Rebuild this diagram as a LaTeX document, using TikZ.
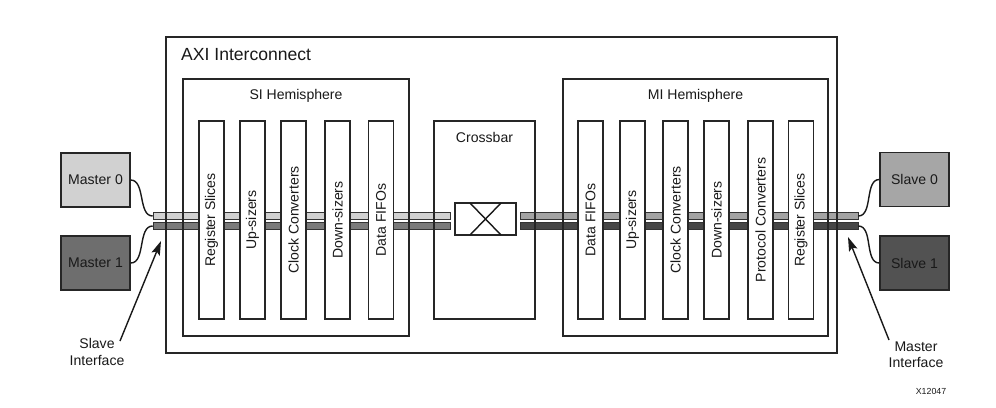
\documentclass[tikz,border=0pt]{standalone}
\usepackage{fontspec}
\setsansfont{Liberation Sans}
\usetikzlibrary{arrows.meta, calc, backgrounds}

\begin{document}
\begin{tikzpicture}[
  x=0.02cm, y=-0.02cm,
  font=\sffamily\fontsize{8}{9.6}\selectfont,
  every node/.style={text=black!90},
  frame/.style={draw=black!85, line width=0.8pt, inner sep=0pt},
  slice/.style={frame, fill=white, rotate=90, minimum width=3.96cm, minimum height=0.5cm},
  port/.style={frame, minimum width=1.38cm, minimum height=1.08cm},
  bar/.style={draw=black!80, line width=0.4pt, inner sep=0pt, minimum height=0.15cm},
  wire/.style={draw=black!90, line width=0.8pt},
  ptr/.style={-{Stealth[length=8pt, width=5pt, inset=1.5pt]}, line width=0.8pt, draw=black!90},
  title/.style={font=\sffamily\fontsize{8}{9.6}\selectfont},
  lbl/.style={align=center, inner sep=0pt}
]
\useasboundingbox (0,0) rectangle (996,407);

% === BUSES ===
\begin{scope}[on background layer]
  \node[bar, fill=black!18, minimum width=5.94cm] (sibar0) at (301.5,216) {};
  \node[bar, fill=black!52, minimum width=5.94cm] (sibar1) at (301.5,226) {};
  \node[bar, fill=black!36, minimum width=6.76cm] (mibar0) at (689,216) {};
  \node[bar, fill=black!72, minimum width=6.76cm] (mibar1) at (689,226) {};
\end{scope}

% === AXI INTERCONNECT ===
\node[frame, minimum width=13.42cm, minimum height=6.32cm] (axi) at (501.5,195) {};
\node[font=\sffamily\fontsize{10}{12}\selectfont, anchor=west] at (175,55) {AXI Interconnect};

% === SI HEMISPHERE ===
\node[frame, minimum width=4.52cm, minimum height=5.14cm] (si) at (296,207.5) {};
\node[title] at (296,96) {SI Hemisphere};
\node[slice] (si1) at (211.5,220) {Register Slices};
\node[slice] (si2) at (252.5,220) {Up-sizers};
\node[slice] (si3) at (293.5,220) {Clock Converters};
\node[slice] (si4) at (337.5,220) {Down-sizers};
\node[slice] (si5) at (381,220) {Data FIFOs};

% === CROSSBAR ===
\node[frame, minimum width=2.02cm, minimum height=3.96cm] (xbar) at (484.5,220) {};
\node[title] at (484.5,137) {Crossbar};
\node[frame, fill=white, minimum width=1.22cm, minimum height=0.64cm] (xsw) at (485.5,219) {};
\draw[wire] (470,203) -- (501,235);
\draw[wire] (501,203) -- (470,235);

% === MI HEMISPHERE ===
\node[frame, minimum width=5.3cm, minimum height=5.14cm] (mi) at (695.5,207.5) {};
\node[title] at (695.5,96) {MI Hemisphere};
\node[slice] (mi1) at (590.5,220) {Data FIFOs};
\node[slice] (mi2) at (632.5,220) {Up-sizers};
\node[slice] (mi3) at (675.5,220) {Clock Converters};
\node[slice] (mi4) at (716.5,220) {Down-sizers};
\node[slice] (mi5) at (760.5,220) {Protocol Converters};
\node[slice] (mi6) at (801,220) {Register Slices};

% === MASTERS AND SLAVES ===
\node[port, fill=black!18] (m0) at (95.5,180) {Master 0};
\node[port, fill=black!57] (m1) at (95.5,263) {Master 1};
\node[port, fill=black!35] (s0) at (914.5,179.5) {Slave 0};
\node[port, fill=black!68] (s1) at (914.5,263) {Slave 1};

\draw[wire] (m0.east) to[out=0, in=180, looseness=0.9] (sibar0.west);
\draw[wire] (m1.east) to[out=0, in=180, looseness=0.9] (sibar1.west);
\draw[wire] (mibar0.east) to[out=0, in=180, looseness=0.9] (s0.west);
\draw[wire] (mibar1.east) to[out=0, in=180, looseness=0.9] (s1.west);

% === INTERFACE LABELS ===
\node[lbl, anchor=north] (silbl) at (97,338) {Slave\\Interface};
\node[lbl, anchor=north] (milbl) at (916,341) {Master\\Interface};
\coordinate (sitip) at (161,241);
\coordinate (mitip) at (848,237);
\draw[ptr] ($(silbl.north)+(23,3)$) -- (sitip);
\draw[ptr] ($(milbl.north)+(-27,-1)$) -- (mitip);

\node[font=\sffamily\fontsize{5}{6}\selectfont] (fig) at (931,391) {X12047};

\end{tikzpicture}
\end{document}
